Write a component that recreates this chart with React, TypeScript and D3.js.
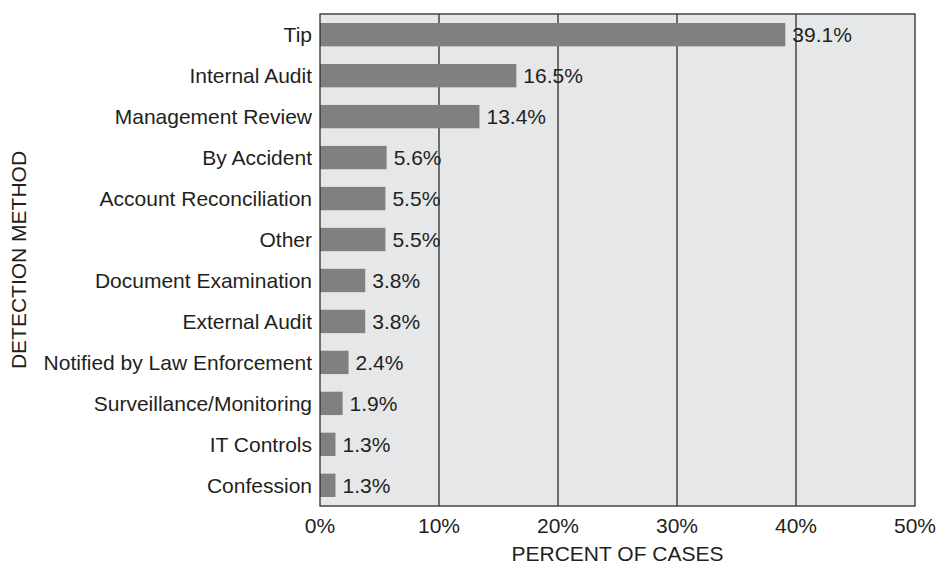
import React from 'react'
import * as d3 from 'd3'

const methods = [
  'Tip',
  'Internal Audit',
  'Management Review',
  'By Accident',
  'Account Reconciliation',
  'Other',
  'Document Examination',
  'External Audit',
  'Notified by Law Enforcement',
  'Surveillance/Monitoring',
  'IT Controls',
  'Confession',
]
const percents = [39.1, 16.5, 13.4, 5.6, 5.5, 5.5, 3.8, 3.8, 2.4, 1.9, 1.3, 1.3]
const xTicks = [0, 10, 20, 30, 40, 50]

const W = 937
const H = 564
const left = 320
const right = 915
const top = 14
const bottom = 506
const font = 'Liberation Sans, Arial, Helvetica, sans-serif'
const fs = 21

export default function App() {
  const x = d3.scaleLinear().domain([0, 50]).range([left, right])
  const y = d3.scaleBand().domain(methods).range([top, bottom]).paddingInner(0.43).paddingOuter(0.22)

  return (
    <svg width={W} height={H} style={{ position: 'absolute', left: 0, top: 0 }} fontFamily={font}>
      <rect x={left} y={top} width={right - left} height={bottom - top} fill="#e6e7e8" />
      {xTicks.slice(1, -1).map(t => (
        <line key={t} x1={x(t)} x2={x(t)} y1={top} y2={bottom} stroke="#2b2b2b" strokeWidth={1.3} />
      ))}
      {methods.map((m, i) => (
        <g key={m}>
          <rect x={x(0)} y={y(m)} width={x(percents[i]) - x(0)} height={y.bandwidth()} fill="#808083" />
          <text x={x(percents[i]) + 7} y={y(m)! + y.bandwidth() / 2} dy="0.36em" fontSize={fs} fill="#231f20">
            {percents[i].toFixed(1)}%
          </text>
          <text x={left - 8} y={y(m)! + y.bandwidth() / 2} dy="0.36em" fontSize={fs} textAnchor="end" fill="#231f20">
            {m}
          </text>
        </g>
      ))}
      <rect x={left} y={top} width={right - left} height={bottom - top} fill="none" stroke="#2b2b2b" strokeWidth={1.3} />
      {xTicks.map(t => (
        <text key={t} x={x(t)} y={533} fontSize={fs} textAnchor="middle" fill="#231f20">
          {t}%
        </text>
      ))}
      <text x={(left + right) / 2} y={561} fontSize={fs} textAnchor="middle" fill="#231f20">
        PERCENT OF CASES
      </text>
      <text transform={`translate(26,${(top + bottom) / 2}) rotate(-90)`} fontSize={fs} textAnchor="middle" fill="#231f20">
        DETECTION METHOD
      </text>
    </svg>
  )
}
